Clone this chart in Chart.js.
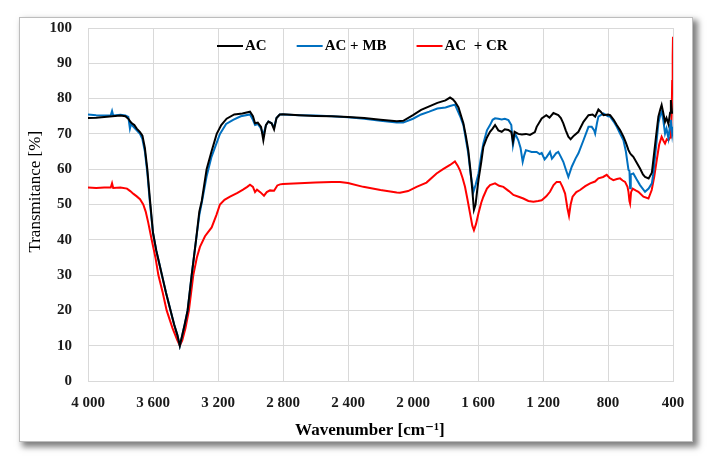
<!DOCTYPE html>
<html lang="en">
<head>
    <meta charset="UTF-8">
    <title>FTIR spectra</title>
    <script src="https://cdn.jsdelivr.net/npm/chart.js"></script>
    <style>
        body { margin: 0; background: #fff; }
        #card {
            position: absolute; left: 19px; top: 17px; width: 674px; height: 425px;
            background: #fff; border: 1px solid #bdbdbd; box-sizing: border-box;
            box-shadow: 4px 4px 6px 1px rgba(0, 0, 0, 0.5);
        }
        #ftir { position: absolute; left: 0; top: 0; }
    </style>
</head>
<body>
    <div id="card"></div>
    <canvas id="ftir" width="710" height="459"></canvas>

    <script>
        // wavenumbers [cm-1] and transmitance [%]
        const wnAC = [
            4000, 3950, 3900, 3850, 3800, 3770, 3750, 3740, 3730, 3715,
            3700, 3680, 3665, 3650, 3635, 3620, 3600, 3580, 3560, 3540,
            3520, 3492, 3470, 3450, 3435, 3425, 3405, 3387, 3362, 3335,
            3315, 3300, 3270, 3240, 3208, 3180, 3147, 3100, 3050, 3003,
            2985, 2972, 2955, 2935, 2921, 2905, 2890, 2870, 2855, 2840,
            2820, 2800, 2700, 2600, 2500, 2400, 2300, 2200, 2100, 2060,
            2000, 1950, 1900, 1850, 1800, 1772, 1755, 1740, 1720, 1700,
            1690, 1675, 1660, 1645, 1635, 1625, 1615, 1605, 1597, 1580,
            1567, 1545, 1526, 1510, 1495, 1475, 1454, 1435, 1413, 1395,
            1385, 1375, 1352, 1330, 1305, 1280, 1250, 1239, 1208, 1180,
            1160, 1136, 1106, 1090, 1075, 1060, 1044, 1030, 1010, 982,
            951, 920, 895, 879, 859, 845, 828, 800, 787, 765,
            746, 725, 705, 690, 674, 664, 655, 644, 625, 603,
            585, 572, 550, 530, 521, 505, 490, 478, 470, 460,
            449, 440, 428, 418, 413, 406, 400
        ];
        const tAC = [
            74.5, 74.6, 74.8, 75.0, 75.2, 75.0, 74.2, 73.5, 73.0, 72.5,
            71.5, 70.5, 69.5, 66, 60, 52, 42, 37, 33, 29,
            25, 20, 16, 13, 10, 12, 16, 20, 30, 40,
            48, 51, 60, 65, 70, 72.5, 74.3, 75.5, 75.8, 76.3,
            75, 73, 73.2, 72, 68.2, 72.5, 73.5, 73, 71.3, 74.5,
            75.5, 75.6, 75.3, 75.1, 75, 74.8, 74.5, 74, 73.6, 73.7,
            75.3, 76.8, 77.8, 78.8, 79.5, 80.3, 79.8, 79, 77.5, 74.5,
            73, 69.5, 65.4, 59, 54, 48.5, 50, 54, 57, 62,
            66.3, 69, 70.6, 71.5, 72.5, 71, 70.6, 71.3, 71.1, 70.5,
            67.8, 70.6, 70, 69.8, 70, 69.7, 70.5, 72, 74.4, 75.3,
            74.6, 75.9, 75.3, 74.5, 73, 71, 69.2, 68.5, 69.5, 70.6,
            73.4, 75.3, 75.5, 74.9, 76.9, 76.3, 75.3, 75.5, 75.3, 74,
            72.5, 71, 69.2, 67.5, 65.4, 64.5, 64, 63.5, 62, 60.2,
            58.5, 57.8, 57.4, 59, 62.6, 69, 74.9, 77, 78.2, 76,
            73.4, 74.5, 72.8, 76, 79.6, 76, 76
        ];

        const wnMB = [
            4000, 3950, 3900, 3860, 3852, 3845, 3800, 3770, 3752, 3742,
            3735, 3720, 3700, 3680, 3665, 3650, 3635, 3620, 3600, 3580,
            3560, 3540, 3520, 3492, 3470, 3450, 3435, 3425, 3405, 3387,
            3362, 3335, 3315, 3300, 3270, 3240, 3188, 3150, 3107, 3060,
            3003, 2985, 2972, 2955, 2935, 2921, 2905, 2890, 2870, 2855,
            2840, 2820, 2800, 2700, 2600, 2500, 2400, 2300, 2200, 2100,
            2060, 2000, 1950, 1900, 1850, 1800, 1772, 1742, 1731, 1710,
            1690, 1675, 1660, 1645, 1628, 1615, 1597, 1580, 1567, 1545,
            1526, 1510, 1495, 1475, 1454, 1435, 1413, 1395, 1385, 1372,
            1352, 1338, 1325, 1315, 1305, 1270, 1239, 1220, 1208, 1190,
            1177, 1157, 1145, 1136, 1120, 1106, 1090, 1075, 1060, 1044,
            1023, 1000, 982, 951, 920, 900, 885, 879, 868, 859,
            828, 800, 787, 765, 746, 725, 705, 690, 674, 668,
            664, 660, 644, 625, 603, 572, 550, 530, 521, 505,
            490, 478, 470, 460, 449, 440, 428, 418, 413, 405,
            400
        ];
        const tMB = [
            75.5, 75.3, 75.2, 75.3, 76.5, 75.2, 75.4, 75.2, 74.8, 71.5,
            72.8, 72, 71, 70, 68.5, 65, 59, 51, 42, 37,
            33, 29, 25, 20, 16, 13, 10, 12, 16, 20,
            30, 40, 47, 50.5, 58, 63.5, 70, 72.8, 74, 75,
            75.5, 74, 72.5, 72.8, 71.5, 69.7, 72.5, 73.5, 73, 71.8,
            74.5, 75.5, 75.5, 75.3, 75.2, 75, 74.7, 74.3, 73.7, 73.2,
            73.2, 74.3, 75.5, 76.3, 77.2, 77.5, 77.9, 78.3, 77.2, 75,
            72.5, 68.5, 64.5, 58.5, 53.6, 55.5, 58.8, 64, 67.3, 71,
            72.5, 74, 74.4, 74.3, 74.1, 74.3, 73.9, 72.5, 66.8, 70.1,
            68.2, 66, 62.1, 64, 65.4, 64.9, 64.9, 64.3, 64.6, 62.8,
            63.5, 64.9, 63, 63.5, 64.5, 64.9, 63.5, 62.1, 60, 57.8,
            60.7, 63, 64.5, 68.2, 72, 72, 71, 70.1, 73, 74.9,
            75.8, 75, 74.9, 73.5, 72, 70, 68.2, 65, 59.8, 59.5,
            54.6, 58.5, 58.8, 57.2, 55.5, 53.6, 54.5, 56, 58.8, 66,
            73, 75.5, 76.3, 74, 70.1, 71.5, 68.7, 72.5, 74, 70,
            72
        ];

        const wnCR = [
            4000, 3950, 3900, 3860, 3852, 3845, 3800, 3760, 3740, 3720,
            3700, 3680, 3660, 3645, 3630, 3608, 3585, 3567, 3540, 3516,
            3480, 3450, 3435, 3420, 3400, 3379, 3352, 3330, 3311, 3280,
            3239, 3210, 3188, 3160, 3126, 3080, 3046, 3020, 3003, 2985,
            2972, 2960, 2940, 2917, 2900, 2880, 2855, 2835, 2818, 2800,
            2700, 2600, 2500, 2449, 2400, 2306, 2200, 2100, 2080, 2030,
            1978, 1917, 1855, 1815, 1772, 1742, 1725, 1711, 1695, 1680,
            1665, 1649, 1635, 1625, 1612, 1597, 1580, 1567, 1545, 1526,
            1495, 1470, 1444, 1410, 1382, 1350, 1321, 1290, 1259, 1230,
            1208, 1180, 1157, 1135, 1116, 1095, 1080, 1064, 1050, 1040,
            1030, 1018, 995, 972, 940, 910, 880, 859, 830, 808,
            790, 767, 745, 726, 710, 695, 680, 674, 668, 664,
            658, 648, 630, 613, 582, 551, 531, 515, 500, 485,
            470, 458, 449, 438, 428, 418, 413, 408, 405, 402,
            400
        ];
        const tCR = [
            54.8, 54.7, 54.8, 54.8, 56, 54.7, 54.8, 54.5, 53.8, 53,
            52.3, 51.5, 50, 48, 45, 40, 35, 30, 25, 20,
            15, 11.5, 10, 11.5, 15, 20, 30, 35, 38, 41,
            43.5, 47, 50, 51.3, 52.2, 53.3, 54.2, 55, 55.6, 55,
            53.5, 54.2, 53.5, 52.5, 53.5, 54, 53.9, 55.4, 55.7, 55.8,
            56, 56.2, 56.4, 56.4, 56.1, 55, 54.1, 53.4, 53.3, 53.8,
            55, 56.2, 58.8, 60, 61.2, 62.2, 61, 59.7, 57.5, 55,
            51.5, 47.5, 44, 42.7, 44.5, 47.5, 50.5, 52.2, 54.5, 55.5,
            56, 55.3, 55, 53.8, 52.7, 52.2, 51.7, 51, 50.8, 51,
            51.2, 52.3, 53.6, 55.5, 56.4, 56.4, 55, 53.1, 49, 46.8,
            50, 52.2, 53.5, 54.1, 55.2, 56, 56.5, 57.4, 57.8, 58.4,
            57.5, 56.9, 57.2, 57.4, 56.8, 56.4, 55, 53.6, 51, 50.3,
            53.5, 54.5, 54, 53.6, 52.2, 51.7, 54.1, 58, 62.6, 67,
            69.2, 68, 67.3, 68.5, 68.2, 69, 70, 76, 85, 92,
            97.5
        ];

        const seriesNames = ['AC', 'AC + MB', 'AC  + CR'];
        const seriesColors = ['#000000', '#0070c0', '#ff0000'];

        const serif = '"Liberation Serif", "DejaVu Serif", serif';

        function toPoints(wn, t) {
            return wn.map((w, i) => ({ x: w, y: t[i] }));
        }

        function thousands(v) {
            if (v < 1000) return String(v);
            return Math.floor(v / 1000) + ' ' + String(v % 1000).padStart(3, '0');
        }

        // legend drawn inside the plot: short line then the name
        const lineLegend = {
            id: 'lineLegend',
            afterDatasetsDraw(chart, args, opts) {
                const { ctx, chartArea } = chart;
                let x = chartArea.left + opts.offsetX;
                const y = chartArea.top + opts.offsetY;
                ctx.save();
                ctx.font = 'bold 15px ' + serif;
                ctx.textBaseline = 'middle';
                chart.data.datasets.forEach(ds => {
                    ctx.strokeStyle = ds.borderColor;
                    ctx.lineWidth = 2;
                    ctx.beginPath();
                    ctx.moveTo(x, y);
                    ctx.lineTo(x + opts.lineLength, y);
                    ctx.stroke();
                    x += opts.lineLength + 2;
                    ctx.fillStyle = '#000';
                    ctx.fillText(ds.label, x, y);
                    x += ctx.measureText(ds.label).width + opts.gap;
                });
                ctx.restore();
            }
        };

        const sets = [[wnAC, tAC], [wnMB, tMB], [wnCR, tCR]].map((s, i) => ({
            label: seriesNames[i],
            data: toPoints(s[0], s[1]),
            borderColor: seriesColors[i],
            backgroundColor: seriesColors[i],
            borderWidth: 2,
            pointRadius: 0,
            tension: 0,
            fill: false
        }));

        const ctx = document.getElementById('ftir').getContext('2d');
        new Chart(ctx, {
            type: 'line',
            data: { datasets: sets },
            plugins: [lineLegend],
            options: {
                responsive: false,
                animation: false,
                layout: { padding: { left: 25, right: 37, top: 28, bottom: 18 } },
                plugins: {
                    legend: { display: false },
                    tooltip: { enabled: false },
                    lineLegend: { offsetX: 129, offsetY: 18, lineLength: 26, gap: 30 }
                },
                scales: {
                    x: {
                        type: 'linear',
                        reverse: true,
                        min: 400,
                        max: 4000,
                        afterFit: s => { s.height = 60; },
                        ticks: {
                            stepSize: 400,
                            padding: 13,
                            maxRotation: 0,
                            color: '#1a1a1a',
                            font: { family: serif, size: 15, weight: 'bold' },
                            callback: v => thousands(v)
                        },
                        grid: { color: '#d9d9d9', lineWidth: 1, drawTicks: false },
                        border: { color: '#d9d9d9' },
                        title: {
                            display: true,
                            // trailing spaces nudge the title a bit left, as in the original
                            text: 'Wavenumber [cm⁻¹]     ',
                            color: '#000',
                            padding: { top: 0, bottom: 0 },
                            font: { family: serif, size: 17, weight: 'bold', lineHeight: 1.2 }
                        }
                    },
                    y: {
                        min: 0,
                        max: 100,
                        afterFit: s => { s.width = 63; },
                        ticks: {
                            stepSize: 10,
                            padding: 16,
                            color: '#1a1a1a',
                            font: { family: serif, size: 15, weight: 'bold' }
                        },
                        grid: { color: '#d9d9d9', lineWidth: 1, drawTicks: false },
                        border: { color: '#d9d9d9' },
                        title: {
                            display: true,
                            // leading spaces push the title up a little
                            text: '      Transmitance [%]',
                            color: '#000',
                            padding: { top: 0, bottom: 0 },
                            font: { family: serif, size: 17, weight: 'normal', lineHeight: 1.2 }
                        }
                    }
                }
            }
        });
    </script>
</body>
</html>
